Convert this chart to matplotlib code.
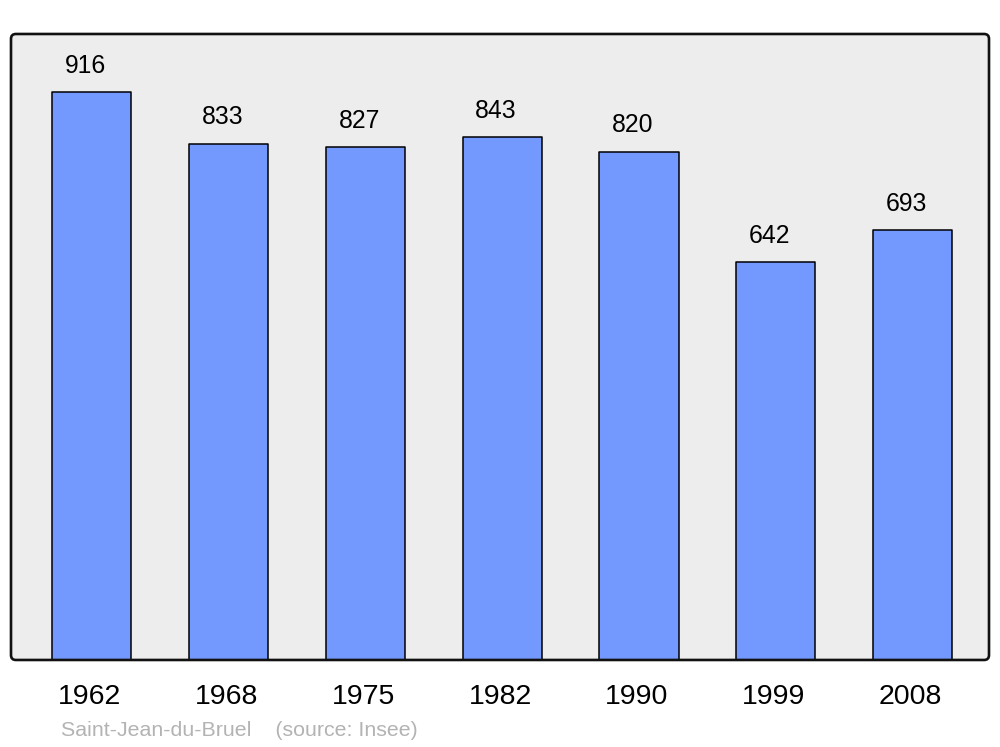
import numpy as np
import matplotlib.pyplot as plt
from matplotlib.patches import FancyBboxPatch

plt.rcParams['font.family'] = ['Liberation Sans', 'DejaVu Sans']

# population data
years = ['1962', '1968', '1975', '1982', '1990', '1999', '2008']
population = [916, 833, 827, 843, 820, 642, 693]
caption = 'Saint-Jean-du-Bruel    (source: Insee)'

fig = plt.figure(figsize=(10, 7.47), dpi=100)
ax = fig.add_axes([0.011, 0.1165, 0.978, 0.838])
ax.set_facecolor('none')

x = np.arange(len(years))
bars = ax.bar(x, population, width=0.578, color='#7399ff', edgecolor='black',
              linewidth=1.1, zorder=2)
for b in bars:
    b.set_joinstyle('round')

for xi, v in zip(x, population):
    ax.annotate(str(v), (xi, v), xytext=(-4.5, 19), textcoords='offset points',
                ha='center', va='center', fontsize=17.8, zorder=3)

ax.set_xlim(-0.592, 6.559)
ax.set_ylim(0, 1010)
ax.set_xticks(x - 0.015)
ax.set_xticklabels(years, fontsize=20.5)
ax.tick_params(axis='x', length=0, pad=17.5)
ax.set_yticks([])
for s in ax.spines.values():
    s.set_visible(False)

# rounded background frame
bg = FancyBboxPatch((0, 0), 1, 1, boxstyle='round,pad=0,rounding_size=0.005',
                    mutation_aspect=978 / 626, transform=ax.transAxes,
                    facecolor='#ededed', edgecolor='none', zorder=0, clip_on=False)
ax.add_patch(bg)
frame = FancyBboxPatch((0, 0), 1, 1, boxstyle='round,pad=0,rounding_size=0.005',
                       mutation_aspect=978 / 626, transform=ax.transAxes,
                       facecolor='none', edgecolor='#111111', linewidth=1.9,
                       zorder=4, clip_on=False)
ax.add_patch(frame)

fig.text(0.061, 1 - 731 / 747, caption, fontsize=15.4, color='#b3b3b3',
         ha='left', va='center')

fig.savefig('out.png', dpi=100, facecolor='white')
